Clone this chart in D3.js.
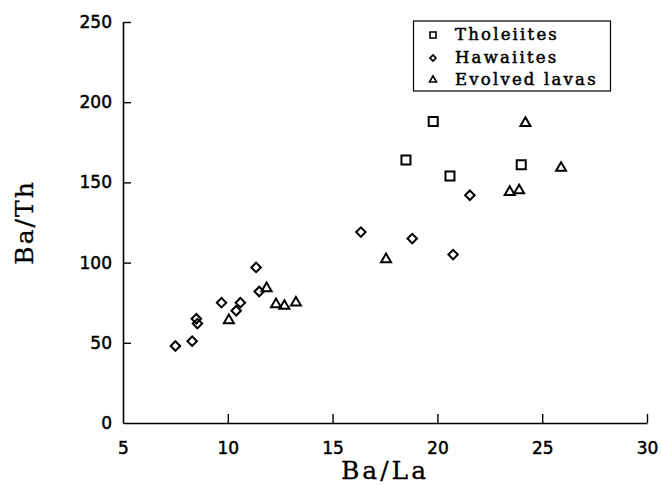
<!DOCTYPE html>
<html lang="en">
    <head>
        <meta charset="utf-8" />
        <title>Ba/Th vs Ba/La</title>
        <script src="https://d3js.org/d3.v7.min.js"></script>
        <style>
            html, body { margin:0; padding:0; overflow:hidden; background-color:#fff }
            svg { display:block }
        </style>
    </head>
    <body>
        <svg id="svg" width="661" height="485"></svg>
        <script>

            // data
            let groups = ["Tholeiites", "Hawaiites", "Evolved lavas"];

            let tholeiites = [
                [19.8, 188], [18.5, 164], [24.0, 161], [20.6, 154]
            ];
            let hawaiites = [
                [7.5, 48], [8.3, 51], [8.5, 65], [8.55, 62], [9.7, 75],
                [10.4, 70], [10.6, 75], [11.35, 97], [11.5, 82],
                [16.35, 119], [18.8, 115], [20.75, 105], [21.55, 142]
            ];
            let evolved = [
                [10.05, 64], [11.85, 84], [12.3, 74], [12.7, 73], [13.25, 75],
                [17.55, 102], [23.45, 144], [23.9, 145], [24.2, 187], [25.9, 159]
            ];

            let xticks = [5, 10, 15, 20, 25, 30];
            let yticks = [0, 50, 100, 150, 200, 250];

            let svg = d3.select("svg");

            let xscale = d3.scaleLinear()
                .domain([5, 30])
                .range([123, 647]);
            let yscale = d3.scaleLinear()
                .domain([0, 250])
                .range([423, 22]);

            let tickfont = "'DejaVu Sans', sans-serif";
            let labelfont = "'DejaVu Serif', serif";

            // x axis
            let xaxis = svg.append("g")
                .attr("transform", "translate(0," + yscale(0) + ")")
                .call(d3.axisBottom(xscale).tickValues(xticks).tickSizeInner(-9).tickSizeOuter(0).tickPadding(19));
            // y axis
            let yaxis = svg.append("g")
                .attr("transform", "translate(" + xscale(5) + ",0)")
                .call(d3.axisLeft(yscale).tickValues(yticks).tickSizeInner(-8).tickSizeOuter(0).tickPadding(11));

            [xaxis, yaxis].forEach(ax => {
                ax.select(".domain").attr("stroke", "#000").attr("stroke-width", 1.6);
                ax.selectAll(".tick line").attr("stroke", "#000").attr("stroke-width", 1.4);
                ax.selectAll(".tick text")
                    .attr("fill", "#000")
                    .attr("stroke", "#000")
                    .attr("stroke-width", 0.5)
                    .style("font-family", tickfont)
                    .style("font-size", "17px");
            });
            // no tick lines at the corner
            xaxis.selectAll(".tick").filter(d => d === 5).select("line").remove();
            yaxis.selectAll(".tick").filter(d => d === 0).select("line").remove();

            // axis titles
            svg.append("text")
                .attr("x", (xscale(5) + xscale(30)) / 2)
                .attr("y", 479)
                .attr("text-anchor", "middle")
                .attr("stroke", "#000")
                .attr("stroke-width", 0.3)
                .style("font-family", labelfont)
                .style("font-size", "25px")
                .style("letter-spacing", "3px")
                .text("Ba/La");

            svg.append("text")
                .attr("transform", "translate(33," + ((yscale(0) + yscale(250)) / 2) + ") rotate(-90)")
                .attr("text-anchor", "middle")
                .attr("stroke", "#000")
                .attr("stroke-width", 0.3)
                .style("font-family", labelfont)
                .style("font-size", "25px")
                .style("letter-spacing", "2px")
                .text("Ba/Th");

            // marker shapes
            function marker(type, size) {
                if (type === 0) return d3.symbol().type(d3.symbolSquare).size(size * size)();
                if (type === 1) return d3.symbol().type(d3.symbolSquare).size(size * size / 2)();
                // triangle: width = size
                let h = size * Math.sqrt(3) / 2;
                return "M0," + (-2 * h / 3) + "L" + (size / 2) + "," + (h / 3) + "L" + (-size / 2) + "," + (h / 3) + "Z";
            }

            let series = [tholeiites, hawaiites, evolved];
            let sizes = [9, 9.5, 10];

            let pts = svg.append("g");
            series.forEach((s, i) => {
                pts.selectAll(".p" + i)
                    .data(s)
                    .join("path")
                    .attr("class", "p" + i)
                    .attr("d", marker(i, sizes[i]))
                    .attr("transform", d => "translate(" + xscale(d[0]) + "," + yscale(d[1]) + ")" + (i === 1 ? " rotate(45)" : ""))
                    .attr("fill", "none")
                    .attr("stroke", "#000")
                    .attr("stroke-width", 2);
            });

            // legend
            let legend = svg.append("g");
            legend.append("rect")
                .attr("x", 413.5)
                .attr("y", 21)
                .attr("width", 197)
                .attr("height", 70)
                .attr("fill", "#fff")
                .attr("stroke", "#000")
                .attr("stroke-width", 1.2);

            let rows = [35, 58, 80];
            let lsizes = [6, 6, 7];
            groups.forEach((g, i) => {
                legend.append("path")
                    .attr("d", marker(i, lsizes[i]))
                    .attr("transform", "translate(433," + rows[i] + ")" + (i === 1 ? " rotate(45)" : ""))
                    .attr("fill", "none")
                    .attr("stroke", "#000")
                    .attr("stroke-width", 1.6);
                legend.append("text")
                    .attr("x", 455)
                    .attr("y", rows[i] + 5)
                    .attr("stroke", "#000")
                    .attr("stroke-width", 0.5)
                    .style("font-family", labelfont)
                    .style("font-size", "16.5px")
                    .style("letter-spacing", "2.2px")
                    .text(g);
            });

        </script>
    </body>
</html>
